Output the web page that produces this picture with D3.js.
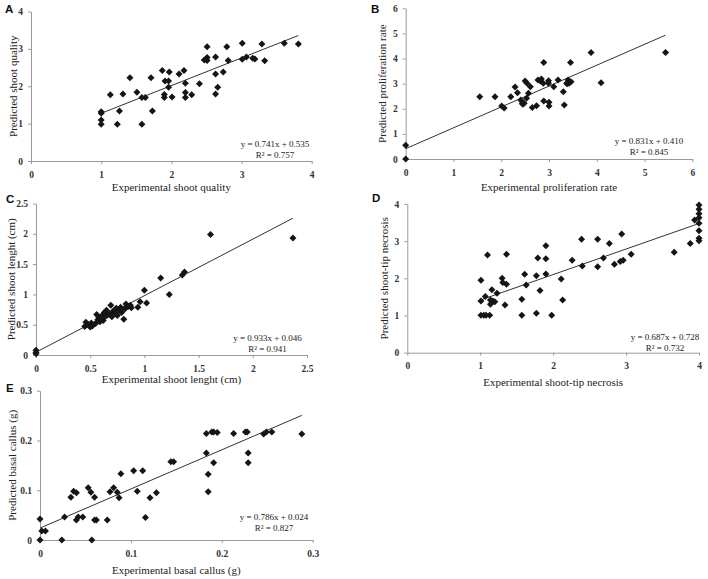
<!DOCTYPE html>
<html>
<head>
<meta charset="utf-8">
<script src="https://cdn.jsdelivr.net/npm/d3@7"></script>
<style>
  body { margin: 0; background: #fff; }
  svg { display: block; }
</style>
</head>
<body>
<div id="chart"></div>
<script>
// ---------- data (experimental vs predicted)
// A: shoot quality
var qualityExp  = [1.0,1.0,1.0,1.0,1.13,1.23,1.26,1.31,1.41,1.51,1.58,1.58,1.63,1.71,1.73,1.87,1.90,1.90,1.91,1.96,1.96,1.97,2.01,2.11,2.18,2.20,2.20,2.20,2.29,2.40,2.47,2.51,2.51,2.51,2.63,2.63,2.63,2.66,2.74,2.79,2.81,3.01,3.01,3.07,3.16,3.19,3.29,3.33,3.61,3.81];
var qualityPred = [0.98,1.10,1.28,1.32,1.77,0.98,1.34,1.79,2.23,1.84,0.98,1.70,1.70,2.23,1.34,2.42,1.78,1.70,2.14,2.14,1.97,2.38,1.71,2.33,2.42,2.08,1.83,1.70,1.77,2.07,2.70,3.06,2.77,2.69,2.33,2.78,1.79,1.97,2.38,3.06,2.69,3.15,2.72,2.78,2.75,2.73,3.13,2.68,3.15,3.13];

// B: proliferation rate
var prolifExp  = [0,0,1.55,1.87,2.01,2.06,2.20,2.29,2.34,2.41,2.44,2.45,2.48,2.50,2.53,2.54,2.57,2.61,2.65,2.74,2.77,2.82,2.84,2.89,2.88,2.89,2.99,2.99,3.00,3.00,3.10,3.19,3.30,3.32,3.37,3.40,3.42,3.45,3.46,3.38,3.88,4.09,5.44];
var prolifPred = [0,0.55,2.48,2.48,2.11,2.03,2.48,2.87,2.64,2.35,2.22,2.18,2.22,3.11,2.42,3.02,2.62,2.88,2.05,2.12,3.15,3.11,3.19,3.84,3.02,2.31,3.12,3.02,2.26,2.11,2.88,3.15,2.68,2.15,3.02,3.15,3.02,3.84,3.08,3.00,4.24,3.04,4.24];

// C: shoot length (cm)
var lengthExp  = [0,0,0,0.45,0.46,0.48,0.50,0.51,0.52,0.55,0.56,0.57,0.58,0.59,0.60,0.61,0.62,0.63,0.63,0.65,0.66,0.68,0.69,0.70,0.71,0.73,0.74,0.75,0.77,0.78,0.79,0.81,0.82,0.83,0.85,0.87,0.88,0.94,0.96,1.00,1.02,1.15,1.23,1.35,1.37,1.61,2.37];
var lengthPred = [0.02,0.04,0.08,0.47,0.54,0.50,0.46,0.53,0.48,0.52,0.67,0.58,0.62,0.55,0.60,0.65,0.57,0.70,0.62,0.74,0.66,0.68,0.82,0.63,0.72,0.69,0.77,0.65,0.73,0.79,0.70,0.59,0.76,0.84,0.80,0.82,0.78,0.79,0.88,1.07,0.86,1.27,1.00,1.32,1.37,1.99,1.93];

// D: shoot-tip necrosis
var necrosisExp  = [1.01,1.05,1.08,1.13,1.01,1.01,1.07,1.10,1.16,1.14,1.17,1.20,1.23,1.14,1.30,1.31,1.36,1.36,1.34,1.57,1.57,1.61,1.63,1.77,1.77,1.79,1.82,1.90,1.90,1.90,1.98,2.11,2.13,2.26,2.39,2.40,2.61,2.61,2.69,2.77,2.84,2.92,2.94,2.96,3.07,3.66,3.88,3.94,4,4,4,4,4,4,4,4];
var necrosisPred = [1.01,1.01,1.01,1.01,1.95,1.39,1.51,2.63,1.69,1.42,1.39,1.37,1.60,1.30,2.00,1.89,2.65,1.84,1.28,1.44,1.01,2.11,1.82,1.06,2.07,2.55,1.67,2.88,2.53,2.12,1.01,1.98,1.42,2.49,3.05,2.33,3.05,2.31,2.55,2.94,2.38,2.45,3.19,2.49,2.65,2.70,2.94,3.57,3.97,3.86,3.74,3.63,3.48,3.28,3.08,3.01];

// E: basal callus (g)
var callusExp  = [0,0,0.002,0.006,0.024,0.027,0.034,0.037,0.040,0.040,0.042,0.047,0.053,0.056,0.057,0.060,0.060,0.062,0.074,0.077,0.081,0.085,0.087,0.089,0.103,0.107,0.113,0.116,0.121,0.128,0.144,0.147,0.183,0.183,0.185,0.185,0.189,0.191,0.191,0.195,0.213,0.226,0.228,0.229,0.229,0.246,0.249,0.255,0.288];
var callusPred = [0,0.042,0.018,0.018,0,0.046,0.086,0.098,0.095,0.040,0.046,0.046,0.105,0.096,0,0.086,0.040,0.040,0.040,0.097,0.105,0.096,0.085,0.133,0.139,0.098,0.139,0.045,0.085,0.095,0.157,0.157,0.175,0.214,0.132,0.097,0.217,0.155,0.217,0.216,0.214,0.217,0.217,0.175,0.155,0.213,0.217,0.217,0.213];

// trendline slope/intercept and R2 printed on each panel
var slopes     = [0.741, 0.831, 0.933, 0.687, 0.786];
var intercepts = [0.535, 0.410, 0.046, 0.728, 0.024];
var rSquared   = ["0.757", "0.845", "0.941", "0.732", "0.827"];

var xTitles = ["Experimental shoot quality", "Experimental proliferation rate", "Experimental shoot lenght (cm)", "Experimental shoot-tip necrosis", "Experimental basal callus (g)"];
var yTitles = ["Predicted shoot quality", "Predicted proliferation rate", "Predicted shoot lenght (cm)", "Predicted shoot-tip necrosis", "Predicted basal callus (g)"];
var letters = ["A", "B", "C", "D", "E"];

var ticksA = [0,1,2,3,4];
var ticksB = [0,1,2,3,4,5,6];
var ticksC = [0,0.5,1,1.5,2,2.5];
var ticksE = [0,0.1,0.2,0.3];

// ------------ layout of the five panels (pixel boxes)
var panels = [
  {xs: qualityExp,  ys: qualityPred,  ticks: ticksA, left: 31,    right: 311.7, top: 11.5,  bottom: 161,   letter: [5, 13],    yTitleX: 13,  xTitleY: 191, eq: [275, 147]},
  {xs: prolifExp,   ys: prolifPred,   ticks: ticksB, left: 405.7, right: 692.3, top: 8.3,   bottom: 159,   letter: [371, 13],  yTitleX: 382, xTitleY: 191, eq: [649, 144]},
  {xs: lengthExp,   ys: lengthPred,   ticks: ticksC, left: 36,    right: 307,   top: 203.5, bottom: 355,   letter: [6, 203],   yTitleX: 11,  xTitleY: 383, eq: [267.5, 341]},
  {xs: necrosisExp, ys: necrosisPred, ticks: ticksA, left: 407.3, right: 699,   top: 204,   bottom: 352.7, letter: [372, 202], yTitleX: 384, xTitleY: 386, eq: [665, 340]},
  {xs: callusExp,   ys: callusPred,   ticks: ticksE, left: 40,    right: 312.7, top: 390.7, bottom: 540,   letter: [6, 392],   yTitleX: 12,  xTitleY: 574, eq: [274, 520]}
];

var svg = d3.select("#chart").append("svg")
  .attr("width", 708)
  .attr("height", 579);

svg.append("rect").attr("width", 708).attr("height", 579).attr("fill", "#fff");

var serif = "'Liberation Serif', 'Times New Roman', serif";
var fmt = d3.format("~g");

// diamond marker like excel (square turned 45deg)
function diamond(r) {
  return "M0," + (-r) + "L" + r + ",0L0," + r + "L" + (-r) + ",0Z";
}

panels.forEach(function(p, i) {
  var maxTick = p.ticks[p.ticks.length - 1];
  var x = d3.scaleLinear().domain([0, maxTick]).range([p.left, p.right]);
  var y = d3.scaleLinear().domain([0, maxTick]).range([p.bottom, p.top]);

  var g = svg.append("g");

  // axes
  var xAxis = g.append("g")
    .attr("transform", "translate(0," + p.bottom + ")")
    .call(d3.axisBottom(x).tickValues(p.ticks).tickFormat(fmt).tickSize(3).tickSizeOuter(0).tickPadding(7));
  var yAxis = g.append("g")
    .attr("transform", "translate(" + p.left + ",0)")
    .call(d3.axisLeft(y).tickValues(p.ticks).tickFormat(fmt).tickSize(3).tickSizeOuter(0).tickPadding(5));

  [xAxis, yAxis].forEach(function(ax) {
    ax.select(".domain").attr("stroke", "#9a9a9a");
    ax.selectAll(".tick line").attr("stroke", "#9a9a9a");
    ax.selectAll(".tick text")
      .attr("fill", "#333")
      .style("font-family", serif)
      .style("font-size", "9.5px")
      .style("font-weight", "bold");
  });

  // trend line over the range of the data
  var x0 = d3.min(p.xs), x1 = d3.max(p.xs);
  g.append("line")
    .attr("x1", x(x0)).attr("y1", y(slopes[i] * x0 + intercepts[i]))
    .attr("x2", x(x1)).attr("y2", y(slopes[i] * x1 + intercepts[i]))
    .attr("stroke", "#333")
    .attr("stroke-width", 1);

  // points
  g.selectAll("path.pt")
    .data(d3.zip(p.xs, p.ys))
    .enter()
    .append("path")
    .attr("class", "pt")
    .attr("d", diamond(3.5))
    .attr("transform", function(d) { return "translate(" + x(d[0]) + "," + y(d[1]) + ")"; })
    .attr("fill", "#151515");

  // equation and R2
  g.append("text")
    .attr("x", p.eq[0]).attr("y", p.eq[1])
    .attr("text-anchor", "middle")
    .style("font-family", serif)
    .style("font-size", "9px")
    .attr("fill", "#222")
    .text("y = " + slopes[i].toFixed(3) + "x + " + intercepts[i].toFixed(3));
  g.append("text")
    .attr("x", p.eq[0]).attr("y", p.eq[1] + 10.5)
    .attr("text-anchor", "middle")
    .style("font-family", serif)
    .style("font-size", "9px")
    .attr("fill", "#222")
    .text("R\u00b2 = " + rSquared[i]);

  // axis titles
  g.append("text")
    .attr("x", (p.left + p.right) / 2).attr("y", p.xTitleY)
    .attr("text-anchor", "middle")
    .style("font-family", serif)
    .style("font-size", "11px")
    .attr("fill", "#222")
    .text(xTitles[i]);
  g.append("text")
    .attr("transform", "translate(" + p.yTitleX + "," + (p.top + p.bottom) / 2 + ") rotate(-90)")
    .attr("dy", "0.35em")
    .attr("text-anchor", "middle")
    .style("font-family", serif)
    .style("font-size", "11px")
    .attr("fill", "#222")
    .text(yTitles[i]);

  // panel letter
  g.append("text")
    .attr("x", p.letter[0]).attr("y", p.letter[1])
    .style("font-family", "'Liberation Sans', Arial, sans-serif")
    .style("font-size", "11.5px")
    .style("font-weight", "bold")
    .attr("fill", "#111")
    .text(letters[i]);
});
</script>
</body>
</html>
